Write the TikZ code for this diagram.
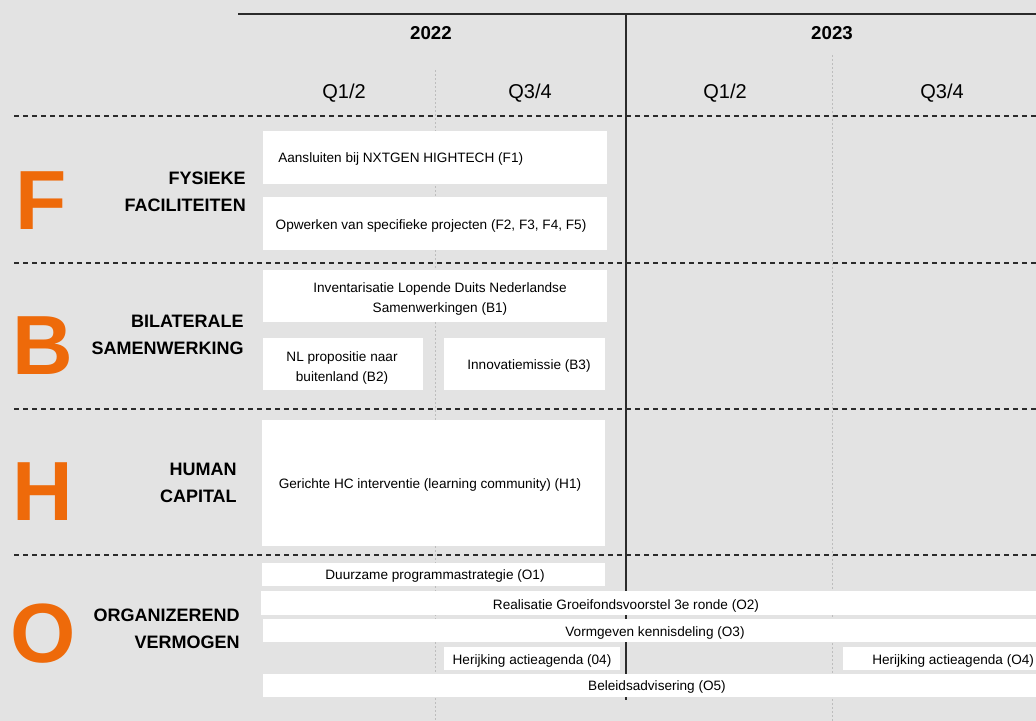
\documentclass[tikz,border=0pt]{standalone}
\usepackage{fontspec}
\setmainfont{Liberation Sans}
\definecolor{bggray}{HTML}{E3E3E3}
\definecolor{orangeF}{HTML}{EE6A0A}
\definecolor{rulegray}{HTML}{2B2B2B}
\definecolor{dotgray}{HTML}{BDBDBD}
\newcommand{\pxu}{0.75pt}

\begin{document}
\begin{tikzpicture}[x=0.75pt,y=-0.75pt,
  bar/.style={rectangle,fill=white,inner sep=0pt,anchor=north west},
  task/.style={inner sep=0pt,align=center,yshift=-1.5pt,font=\fontsize{10.2}{15}\selectfont},
  quarter/.style={inner sep=0pt,yshift=-1.5pt,font=\fontsize{15}{18}\selectfont},
  year/.style={inner sep=0pt,font=\bfseries\fontsize{14}{17}\selectfont},
  pillar/.style={inner sep=0pt,anchor=base west,text=orangeF,font=\bfseries\fontsize{63}{63}\selectfont},
  theme/.style={inner sep=0pt,anchor=east,align=right,font=\bfseries\fontsize{13.5}{20.25}\selectfont},
  sep/.style={rulegray,line width=0.9pt,dash pattern=on 3.75pt off 3pt},
  half/.style={dotgray,line width=0.5pt,dash pattern=on 1.5pt off 1.5pt}]
\fill[bggray] (0,0) rectangle (1036,721);
\clip (0,0) rectangle (1036,721);

\draw[half] (435,70) -- (435,721);
\draw[half] (832,55) -- (832,721);
\draw[rulegray,line width=1.1pt] (238,14) -- (1036,14);
\draw[rulegray,line width=1.1pt] (626,14) -- (626,700);
\foreach \y in {116,263,409,555}
  \draw[sep] (14,\y) -- (1036,\y);

\node at (431,33)[year](y22){2022};
\node at (832,33)[year](y23){2023};
\node at (344,91)[quarter](q1a){Q1/2};
\node at (530,91)[quarter](q3a){Q3/4};
\node at (725,91)[quarter](q1b){Q1/2};
\node at (942,91)[quarter](q3b){Q3/4};

\node at (15,229)[pillar](pf){F};
\node at (12,374)[pillar](pb){B};
\node at (12,520)[pillar](ph){H};
\node at (10,662)[pillar](po){O};

\node at (246,191.5)[theme](tf){FYSIEKE\\FACILITEITEN};
\node at (244,335)[theme](tb){BILATERALE\\SAMENWERKING};
\node at (237,482.5)[theme](th){HUMAN\\CAPITAL};
\node at (240,628.5)[theme](to){ORGANIZEREND\\VERMOGEN};

\node at (263,131)[bar,minimum width=344*\pxu,minimum height=53*\pxu](f1){};
\node at (263,197)[bar,minimum width=344*\pxu,minimum height=53*\pxu](f2){};
\node at (263,270)[bar,minimum width=344*\pxu,minimum height=52*\pxu](b1){};
\node at (263,338)[bar,minimum width=160*\pxu,minimum height=52*\pxu](b2){};
\node at (444,338)[bar,minimum width=161*\pxu,minimum height=52*\pxu](b3){};
\node at (262,420)[bar,minimum width=343*\pxu,minimum height=126*\pxu](h1){};
\node at (262,563)[bar,minimum width=343*\pxu,minimum height=23*\pxu](o1){};
\node at (261,591)[bar,minimum width=790*\pxu,minimum height=24*\pxu](o2){};
\node at (263,619)[bar,minimum width=790*\pxu,minimum height=23*\pxu](o3){};
\node at (444,647)[bar,minimum width=176*\pxu,minimum height=23*\pxu](o4a){};
\node at (843,647)[bar,minimum width=210*\pxu,minimum height=23*\pxu](o4b){};
\node at (263,674)[bar,minimum width=790*\pxu,minimum height=23*\pxu](o5){};

\node at (278,157)[task,anchor=west](tf1){Aansluiten bij NXTGEN HIGHTECH (F1)};
\node at (431,224)[task](tf2){Opwerken van specifieke projecten (F2, F3, F4, F5)};
\node at (440,297)[task](tb1){Inventarisatie Lopende Duits Nederlandse\\Samenwerkingen (B1)};
\node at (342,366)[task](tb2){NL propositie naar\\buitenland (B2)};
\node at (529,364)[task](tb3){Innovatiemissie (B3)};
\node at (430,483)[task](th1){Gerichte HC interventie (learning community) (H1)};
\node at (435,574)[task](to1){Duurzame programmastrategie (O1)};
\node at (626,604)[task](to2){Realisatie Groeifondsvoorstel 3e ronde (O2)};
\node at (655,631)[task](to3){Vormgeven kennisdeling (O3)};
\node at (532,659)[task](to4a){Herijking actieagenda (04)};
\node at (872,659)[task,anchor=west](to4b){Herijking actieagenda (O4)};
\node at (657,685)[task](to5){Beleidsadvisering (O5)};
\end{tikzpicture}
\end{document}
